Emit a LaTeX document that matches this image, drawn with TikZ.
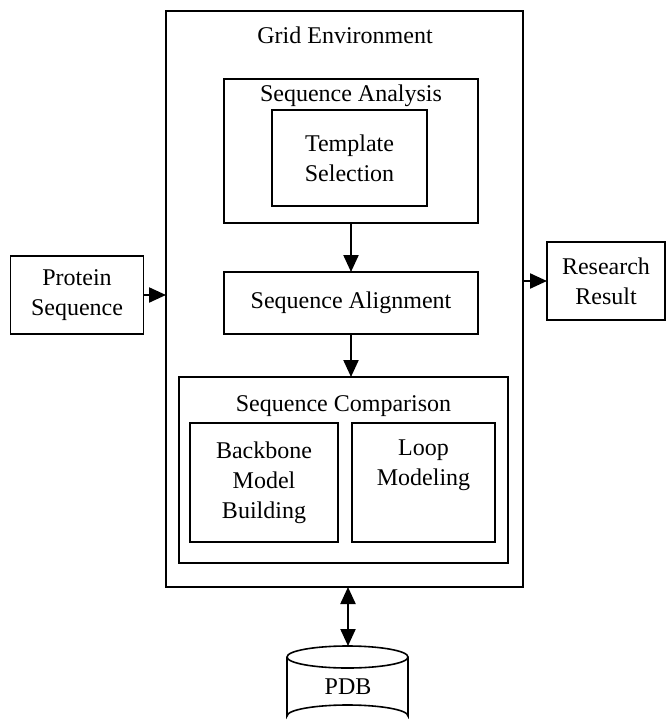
\documentclass[tikz,border=0pt]{standalone}
\usepackage{fontspec}
\setmainfont{Liberation Serif}
\usetikzlibrary{arrows.meta}
\begin{document}
\begin{tikzpicture}[x=1pt, y=-1pt, line width=1.6pt,
  box/.style={draw, inner sep=0pt, outer sep=0pt, align=center, font=\fontsize{24}{30}\selectfont},
  title/.style={anchor=base, inner sep=0pt, font=\fontsize{24}{30}\selectfont},
  flow/.style={-{Triangle[length=17pt, width=15pt]}, line width=2.2pt},
  twoway/.style={{Triangle[length=17pt, width=15pt]}-{Triangle[length=17pt, width=15pt]}, line width=2.2pt}]
\useasboundingbox (0,0) rectangle (666,727);
\node[box, minimum width=357, minimum height=576] (grid) at (344.5,299) {};
\node[title] (gridtitle) at (345,44) {Grid Environment};
\node[box, minimum width=254, minimum height=144] (analysis) at (351,151) {};
\node[title] (analysistitle) at (351,102) {Sequence Analysis};
\node[box, minimum width=155, minimum height=96] (template) at (349.5,158) {Template\\Selection};
\node[box, minimum width=254, minimum height=62] (align) at (351,303) {Sequence Alignment};
\node[box, minimum width=329, minimum height=186] (comparison) at (343.5,470) {};
\node[title] (comparisontitle) at (343.5,411) {Sequence Comparison};
\node[box, minimum width=148, minimum height=119] (backbone) at (264,482.5) {Backbone\\Model\\Building};
\node[box, minimum width=143, minimum height=119] (loop) at (423.5,482.5) {Loop\\Modeling\\\strut};
\node[box, minimum width=133, minimum height=78] (protein) at (77,295) {Protein\\Sequence};
\node[box, minimum width=118, minimum height=78] (research) at (606,281) {Research\\Result};

\coordinate (pdbtop) at (348,646);
\draw (347.5,657) ellipse [x radius=60.5, y radius=11];
\draw (287,657) -- (287,716) arc [x radius=60.5, y radius=11, start angle=180, end angle=360] -- (408,657);
\node[title, anchor=center] (pdb) at (348,687) {PDB};

\draw[flow] (analysis.south) -- (align.north);
\draw[flow] (align.south) -- (align.south |- comparison.north);
\draw[flow] (protein.east) -- (protein.east -| grid.west);
\draw[flow] (grid.east |- research.west) -- (research.west);
\draw[twoway] (grid.south -| pdbtop) -- (pdbtop);
\end{tikzpicture}
\end{document}
